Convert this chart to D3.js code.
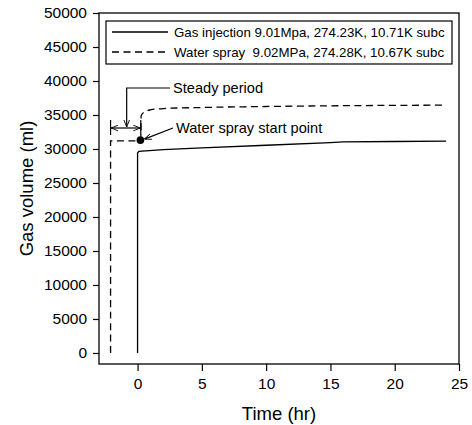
<!DOCTYPE html>
<html><head><meta charset="utf-8">
<script src="https://cdn.jsdelivr.net/npm/d3@7/dist/d3.min.js"></script>
<style>body{margin:0;background:#fff}text{font-family:"Liberation Sans",Arial,sans-serif;fill:#000}</style>
</head><body><svg id="c" width="472" height="425"></svg>
<script>
const xTicks=[0,5,10,15,20,25];
const yTicks=[0,5000,10000,15000,20000,25000,30000,35000,40000,45000,50000];
const gasTime=[0,0,0.1,2,5,10,15,16,20,24];
const gasVol=[0,29400,29650,29900,30150,30550,30950,31050,31100,31150];
const sprayTime=[-2.1,-2.1,0.25,0.28,0.5,1,2,5,10,15,24];
const sprayVol=[0,31200,31200,34900,35400,35750,35950,36100,36250,36350,36450];
const legendLabels=["Gas injection 9.01Mpa, 274.23K, 10.71K subc","Water spray  9.02MPa, 274.28K, 10.67K subc"];
const startPoint={t:0.22,v:31300};
const steady={t0:-2.1,t1:0.25,v:27000};

const svg=d3.select("#c");
const L=99,R=459,T=13,B=364;
const x=d3.scaleLinear().domain([-3,25]).range([L,R]);
const y=d3.scaleLinear().domain([-1620,50000]).range([B,T]);
const defs=svg.append("defs");
defs.append("marker").attr("id","ah").attr("viewBox","0 0 10 10").attr("refX",10).attr("refY",5)
 .attr("markerWidth",7).attr("markerHeight",7).attr("orient","auto-start-reverse").attr("markerUnits","userSpaceOnUse")
 .append("path").attr("d","M0,1 L10,5 L0,9").attr("fill","none").attr("stroke","#000").attr("stroke-width",1.3);

svg.append("rect").attr("x",L).attr("y",T).attr("width",R-L).attr("height",B-T).attr("fill","none").attr("stroke","#000").attr("stroke-width",1.3);
const xa=svg.append("g").attr("transform",`translate(0,${B})`).call(d3.axisBottom(x).tickValues(xTicks).tickSize(7).tickPadding(7));
const ya=svg.append("g").attr("transform",`translate(${L},0)`).call(d3.axisLeft(y).tickValues(yTicks).tickSize(6).tickPadding(6).tickFormat(d3.format("d")));
[xa,ya].forEach(a=>{a.select(".domain").remove();a.selectAll("line").attr("stroke-width",1.2);a.selectAll("text").style("font-size","15.5px").attr("font-family",null);});
svg.append("text").attr("x",(L+R)/2).attr("y",420).attr("text-anchor","middle").style("font-size","18.5px").text("Time (hr)");
svg.append("text").attr("transform",`translate(33,${(T+B)/2}) rotate(-90)`).attr("text-anchor","middle").style("font-size","18.5px").text("Gas volume (ml)");

const line=d3.line().x(d=>x(d[0])).y(d=>y(d[1]));
svg.append("path").datum(gasTime.map((t,i)=>[t,gasVol[i]])).attr("d",line).attr("fill","none").attr("stroke","#000").attr("stroke-width",1.3);
svg.append("path").datum(sprayTime.map((t,i)=>[t,sprayVol[i]])).attr("d",d3.line().x(d=>x(d[0])).y(d=>y(d[1])).curve(d3.curveMonotoneX)).attr("fill","none").attr("stroke","#000").attr("stroke-width",1.3).attr("stroke-dasharray","7,4.5");

// legend
svg.append("rect").attr("x",106).attr("y",21).attr("width",346).attr("height",43).attr("fill","#fff").attr("stroke","#000").attr("stroke-width",1.2);
legendLabels.forEach((l,i)=>{
  const yy=32+i*20;
  svg.append("line").attr("x1",112).attr("x2",168).attr("y1",yy).attr("y2",yy).attr("stroke","#000").attr("stroke-width",1.3).attr("stroke-dasharray",i?"7,4.5":null);
  svg.append("text").attr("x",174).attr("y",yy).attr("dy","0.36em").style("font-size","13.3px").style("white-space","pre").text(l);
});

// annotations
const ya2=128;
const xs0=x(steady.t0), xs1=x(steady.t1);
svg.append("line").attr("x1",xs0).attr("x2",xs0).attr("y1",ya2-8).attr("y2",ya2+7).attr("stroke","#000").attr("stroke-width",1.2);
svg.append("line").attr("x1",xs1).attr("x2",xs1).attr("y1",ya2-8).attr("y2",ya2+7).attr("stroke","#000").attr("stroke-width",1.2);
svg.append("line").attr("x1",xs0+0.5).attr("x2",xs1-0.5).attr("y1",ya2).attr("y2",ya2).attr("stroke","#000").attr("stroke-width",1.2).attr("marker-start","url(#ah)").attr("marker-end","url(#ah)");
svg.append("path").attr("d",`M170,88 H${(xs0+xs1)/2+1} V${ya2-1}`).attr("fill","none").attr("stroke","#000").attr("stroke-width",1.2).attr("marker-end","url(#ah)");
svg.append("text").attr("x",173).attr("y",88).attr("dy","0.36em").style("font-size","14.6px").text("Steady period");
svg.append("circle").attr("cx",x(startPoint.t)).attr("cy",y(startPoint.v)).attr("r",3.8).attr("fill","#000");
svg.append("line").attr("x1",173).attr("y1",128).attr("x2",x(startPoint.t)+4).attr("y2",y(startPoint.v)-1).attr("stroke","#000").attr("stroke-width",1.2).attr("marker-end","url(#ah)");
svg.append("text").attr("x",176).attr("y",128).attr("dy","0.36em").style("font-size","14.6px").text("Water spray start point");
</script></body></html>
